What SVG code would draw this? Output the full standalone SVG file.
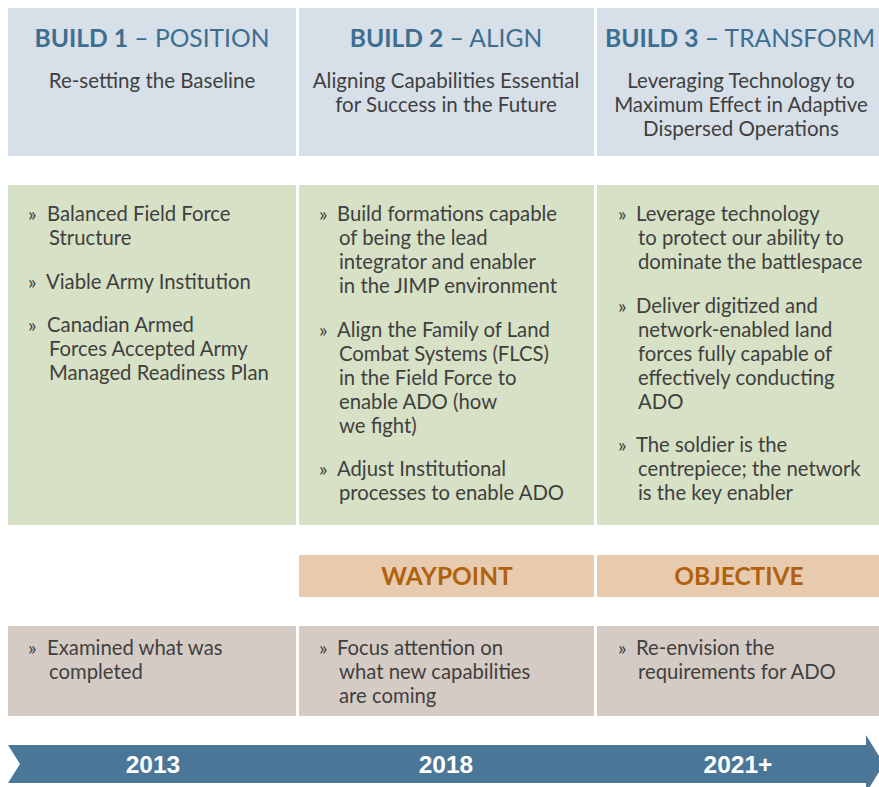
<svg xmlns="http://www.w3.org/2000/svg" width="879" height="787" viewBox="0 0 879 787">
<style>
.hd{fill:#d7dfe9}
.gr{fill:#d7e1c5}
.wp{fill:#e8cbae}
.gy{fill:#d5cbc5}
.ttl{font-family:Lato,"Open Sans",sans-serif;font-size:24.6px;fill:#3d6e90;text-anchor:middle}
.ttl tspan.b{font-weight:bold}
.sub{font-family:Lato,"Open Sans",sans-serif;font-size:20.5px;fill:#3f3f3f;text-anchor:middle}
.tx{font-family:Lato,"Open Sans",sans-serif;font-size:20.3px;fill:#3f3f3f}
.mk{font-family:Lato,"Open Sans",sans-serif;font-size:20px;fill:#3f3f3f}
.wt{font-family:Lato,"Open Sans",sans-serif;font-size:24.5px;font-weight:bold;fill:#b0620e;text-anchor:middle}
.yr{font-family:"Liberation Sans",Arial,sans-serif;font-size:24.5px;font-weight:bold;fill:#ffffff;text-anchor:middle}
</style>
<rect width="879" height="787" fill="#ffffff"/>
<g id="col1-header"><rect class="hd" x="8" y="8" width="288" height="148"/>
<text class="ttl" x="152" y="47"><tspan class="b">BUILD 1</tspan> – POSITION</text>
<text class="sub" x="152" y="88">Re-setting the Baseline</text></g>
<g id="col2-header"><rect class="hd" x="299" y="8" width="295" height="148"/>
<text class="ttl" x="446" y="47"><tspan class="b">BUILD 2</tspan> – ALIGN</text>
<text class="sub" x="446" y="88">Aligning Capabilities Essential</text>
<text class="sub" x="446" y="112">for Success in the Future</text></g>
<g id="col3-header"><rect class="hd" x="597" y="8" width="282" height="148"/>
<text class="ttl" x="740" y="47"><tspan class="b">BUILD 3</tspan> – TRANSFORM</text>
<text class="sub" x="741" y="88">Leveraging Technology to</text>
<text class="sub" x="741" y="112">Maximum Effect in Adaptive</text>
<text class="sub" x="741" y="136">Dispersed Operations</text></g>

<g id="col1-goals"><rect class="gr" x="8" y="185" width="288" height="340"/>
<text class="mk" x="28" y="221">»</text><text class="tx" x="47" y="221">Balanced Field Force</text>
<text class="tx" x="49" y="245">Structure</text>
<text class="mk" x="28" y="289">»</text><text class="tx" x="46" y="289">Viable Army Institution</text>
<text class="mk" x="28" y="332">»</text><text class="tx" x="47" y="332">Canadian Armed</text>
<text class="tx" x="49" y="356">Forces Accepted Army</text>
<text class="tx" x="49" y="380">Managed Readiness Plan</text></g>

<g id="col2-goals"><rect class="gr" x="299" y="185" width="295" height="340"/>
<text class="mk" x="319" y="221">»</text><text class="tx" x="337" y="221">Build formations capable</text>
<text class="tx" x="339" y="245">of being the lead</text>
<text class="tx" x="339" y="269">integrator and enabler</text>
<text class="tx" x="339" y="293">in the JIMP environment</text>
<text class="mk" x="319" y="337">»</text><text class="tx" x="337" y="337">Align the Family of Land</text>
<text class="tx" x="339" y="361">Combat Systems (FLCS)</text>
<text class="tx" x="339" y="385">in the Field Force to</text>
<text class="tx" x="339" y="409">enable ADO (how</text>
<text class="tx" x="339" y="433">we fight)</text>
<text class="mk" x="319" y="476">»</text><text class="tx" x="337" y="476">Adjust Institutional</text>
<text class="tx" x="339" y="500">processes to enable ADO</text></g>

<g id="col3-goals"><rect class="gr" x="597" y="185" width="282" height="340"/>
<text class="mk" x="618" y="221">»</text><text class="tx" x="636" y="221">Leverage technology</text>
<text class="tx" x="638" y="245">to protect our ability to</text>
<text class="tx" x="638" y="269">dominate the battlespace</text>
<text class="mk" x="618" y="313">»</text><text class="tx" x="636" y="313">Deliver digitized and</text>
<text class="tx" x="638" y="337">network-enabled land</text>
<text class="tx" x="638" y="361">forces fully capable of</text>
<text class="tx" x="638" y="385">effectively conducting</text>
<text class="tx" x="638" y="409">ADO</text>
<text class="mk" x="618" y="452">»</text><text class="tx" x="636" y="452">The soldier is the</text>
<text class="tx" x="638" y="476">centrepiece; the network</text>
<text class="tx" x="638" y="500">is the key enabler</text></g>

<g id="waypoint"><rect class="wp" x="299" y="555" width="295" height="42"/>
<text class="wt" x="447" y="585">WAYPOINT</text></g>
<g id="objective"><rect class="wp" x="597" y="555" width="282" height="42"/>
<text class="wt" x="739" y="585">OBJECTIVE</text></g>

<g id="col1-review"><rect class="gy" x="8" y="626" width="288" height="90"/>
<text class="mk" x="28" y="655">»</text><text class="tx" x="47" y="655">Examined what was</text>
<text class="tx" x="49" y="679">completed</text></g>
<g id="col2-review"><rect class="gy" x="299" y="626" width="295" height="90"/>
<text class="mk" x="319" y="655">»</text><text class="tx" x="337" y="655">Focus attention on</text>
<text class="tx" x="339" y="679">what new capabilities</text>
<text class="tx" x="339" y="703">are coming</text></g>
<g id="col3-review"><rect class="gy" x="597" y="626" width="282" height="90"/>
<text class="mk" x="618" y="655">»</text><text class="tx" x="636" y="655">Re-envision the</text>
<text class="tx" x="638" y="679">requirements for ADO</text></g>

<g id="timeline">
<polygon points="8,745 866,745 866,735 884,764 866,793 866,783 8,783 20,764" fill="#4a7797"/>
<text class="yr" x="153" y="773">2013</text>
<text class="yr" x="446" y="773">2018</text>
<text class="yr" x="738" y="773">2021+</text>
</g>
</svg>
